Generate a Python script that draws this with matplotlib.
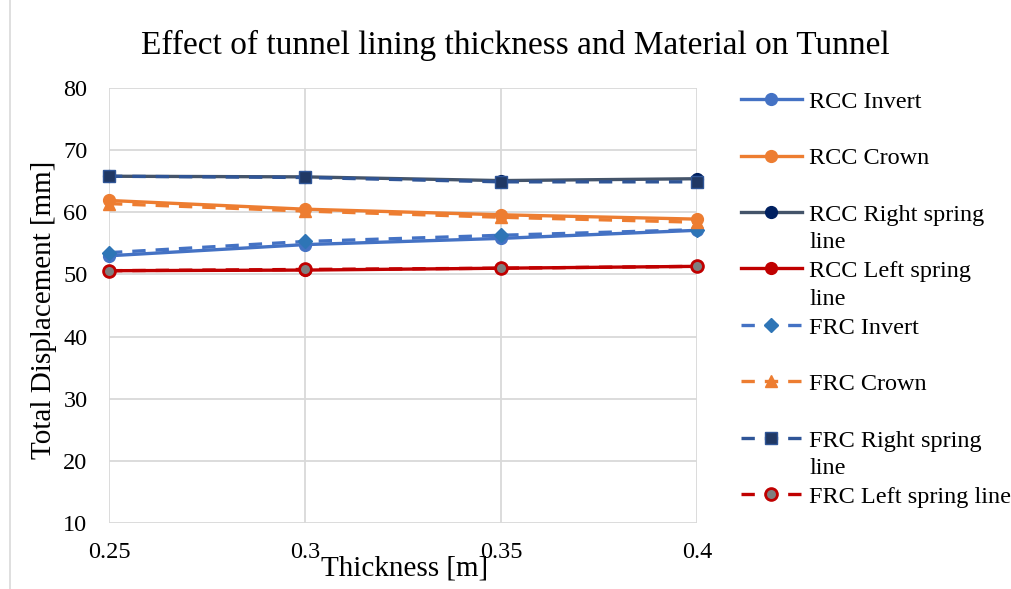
import numpy as np
import matplotlib
matplotlib.use('Agg')
import matplotlib.pyplot as plt
from matplotlib.legend_handler import HandlerLine2D
from matplotlib.patches import Rectangle

# --- Data
thickness = [0.25, 0.30, 0.35, 0.40]
tick_labels = ['0.25', '0.3', '0.35', '0.4']

rcc_invert = [53.0, 54.8, 55.8, 57.1]
rcc_crown  = [61.9, 60.5, 59.6, 58.9]
rcc_right  = [65.8, 65.7, 65.1, 65.4]
rcc_left   = [50.6, 50.7, 51.0, 51.3]

frc_invert = [53.5, 55.3, 56.3, 57.2]
frc_crown  = [61.4, 60.2, 59.2, 58.4]
frc_right  = [65.8, 65.6, 64.9, 64.9]
frc_left   = [50.6, 50.8, 51.0, 51.3]

labels = ['RCC Invert', 'RCC Crown', 'RCC Right spring\nline', 'RCC Left spring\nline',
          'FRC Invert', 'FRC Crown', 'FRC Right spring\nline', 'FRC Left spring line']


class HandlerFirstLine(HandlerLine2D):
    # put the legend handle level with the first text line
    def create_artists(self, legend, orig_handle, xdescent, ydescent, width, height, fontsize, trans):
        arts = super().create_artists(legend, orig_handle, xdescent, ydescent, width, height, fontsize, trans)
        for a in arts:
            a.set_ydata(np.asarray(a.get_ydata()) + 0.68*fontsize)
        return arts


plt.rcParams['font.family'] = ['Liberation Serif', 'DejaVu Serif']

fig = plt.figure(figsize=(10.12, 5.89), dpi=100)
ax = fig.add_axes([109/1012, 1-523/589, (697-109)/1012, (523-88)/589])

# chart border
fig.patches.append(Rectangle((10/1012, -0.05), 1.1, 1.1, transform=fig.transFigure,
                             fill=False, edgecolor='#D9D9D9', linewidth=1.2))

lw = 2.4
ms = 8.5
dash = (4, 3)
kw = dict(linewidth=lw, markersize=ms, clip_on=False)

ax.plot(thickness, rcc_invert, '-', marker='o', color='#4472C4', label=labels[0], **kw)
ax.plot(thickness, rcc_crown, '-', marker='o', color='#ED7D31', label=labels[1], **kw)
ax.plot(thickness, rcc_right, '-', marker='o', color='#44546A', markerfacecolor='#002060',
        markeredgecolor='#002060', label=labels[2], **kw)
ax.plot(thickness, rcc_left, '-', marker='o', color='#C00000', label=labels[3], **kw)

ax.plot(thickness, frc_invert, '--', dashes=dash, marker='D', color='#4472C4', markersize=7.5,
        markerfacecolor='#2E75B6', markeredgecolor='#2E75B6', linewidth=lw, clip_on=False, label=labels[4])
ax.plot(thickness, frc_crown, '--', dashes=dash, marker='^', color='#ED7D31', label=labels[5], **kw)
ax.plot(thickness, frc_right, '--', dashes=dash, marker='s', color='#2F5597', markerfacecolor='#203864',
        markeredgecolor='#2F5597', label=labels[6], **kw)
ax.plot(thickness, frc_left, '--', dashes=dash, marker='o', color='#C00000', markerfacecolor='#7F7F7F',
        markeredgecolor='#C00000', markeredgewidth=2, label=labels[7], **kw)

ax.set_xlim(0.25, 0.40)
ax.set_ylim(10, 80)
ax.set_xticks(thickness)
ax.set_xticklabels(tick_labels)
ax.set_yticks(np.arange(10, 81, 10))
ax.grid(True, color='#D9D9D9', linewidth=1.3)
ax.set_axisbelow(True)
for s in ax.spines.values():
    s.set_visible(False)
ax.tick_params(axis='both', length=0, labelsize=17.5)
ax.tick_params(axis='x', pad=14)
ax.tick_params(axis='y', pad=15.5)

ax.set_xlabel('Thickness [m]', fontsize=21)
ax.xaxis.set_label_coords(0.502, -0.075)
ax.set_ylabel('Total Displacement [mm]', fontsize=21)
ax.yaxis.set_label_coords(-0.0885, 0.49)

fig.suptitle('Effect of tunnel lining thickness and Material on Tunnel', fontsize=24,
             x=0.509, y=1-45/589, va='center')

h, l = ax.get_legend_handles_labels()
l = [s if '\n' in s else s + '\n' for s in l]
leg = fig.legend(h, l, loc='upper left', bbox_to_anchor=(741/1012, 1-92/589), frameon=False,
                 fontsize=17.5, handlelength=2.5, handletextpad=0.3, labelspacing=0.33,
                 borderpad=0, borderaxespad=0,
                 handler_map={type(h[0]): HandlerFirstLine()})
for t in leg.get_texts():
    t.set_linespacing(1.4)

fig.savefig('out.png', dpi=100)
